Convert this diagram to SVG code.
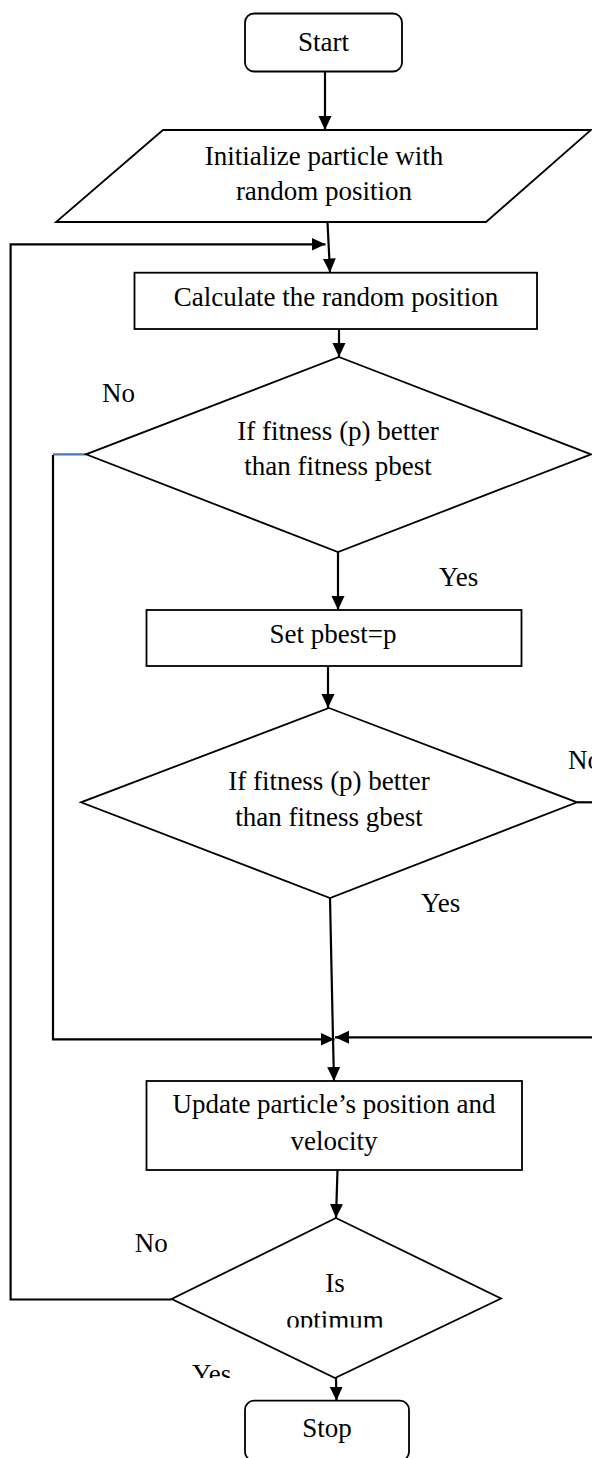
<svg xmlns="http://www.w3.org/2000/svg" width="592" height="1458" viewBox="0 0 592 1458">
<style>
.shape{fill:#fff;stroke:#000;stroke-width:1.8}
.txt{font-family:"Liberation Serif","Times New Roman",serif;font-size:27px;fill:#000;text-anchor:middle}
.lbl{font-family:"Liberation Serif","Times New Roman",serif;font-size:27px;fill:#000}
.conn{fill:none;stroke:#000;stroke-width:2.2}
.arr{marker-end:url(#ah)}
</style>
<defs>
<marker id="ah" markerUnits="userSpaceOnUse" markerWidth="14" markerHeight="14" refX="14" refY="6.5" orient="auto">
<path d="M0,0 L14,6.5 L0,13 z" fill="#000"/>
</marker>
<clipPath id="clipOpt"><rect x="0" y="1290" width="592" height="37.5"/></clipPath>
<clipPath id="clipYes"><rect x="0" y="1340" width="592" height="38"/></clipPath>
</defs>
<rect width="592" height="1458" fill="#fff"/>
<g id="connectors">
<line class="conn arr" x1="325" y1="72" x2="325" y2="130"/>
<line class="conn arr" x1="327.5" y1="222" x2="330" y2="272.5"/>
<polyline class="conn arr" points="171.7,1299.5 10.6,1299.5 10.6,244.3 325.5,244.3"/>
<line class="conn arr" x1="339" y1="329" x2="339" y2="357"/>
<line x1="86" y1="454.3" x2="53" y2="454.3" stroke="#4a78b8" stroke-width="2.2"/>
<polyline class="conn arr" points="53,455 53,1039.3 334.5,1039.3"/>
<line class="conn arr" x1="338" y1="552" x2="338" y2="610"/>
<line class="conn arr" x1="328" y1="666" x2="328" y2="708"/>
<line class="conn" x1="577" y1="802.3" x2="600" y2="802.3"/>
<line class="conn arr" x1="600" y1="1037.3" x2="335" y2="1037.3"/>
<polyline class="conn arr" points="330,898 333,1039 334,1081"/>
<line class="conn arr" x1="337.5" y1="1170" x2="336" y2="1218"/>
<line class="conn arr" x1="336" y1="1378" x2="336.5" y2="1400.7"/>
</g>
<g id="start">
<rect class="shape" x="245" y="13.5" width="157" height="58" rx="9"/>
<text class="txt" x="323.5" y="51">Start</text>
</g>
<g id="init">
<polygon class="shape" points="163,130 591,130 486,222 56,222"/>
<text class="txt" x="324" y="165">Initialize particle with</text>
<text class="txt" x="324" y="200">random position</text>
</g>
<g id="calc">
<rect class="shape" x="134.5" y="272.7" width="402.5" height="56.3"/>
<text class="txt" x="336" y="306">Calculate the random position</text>
</g>
<g id="d1">
<polygon class="shape" points="339,357 591,454.3 338,552 86,454.3"/>
<text class="txt" x="338" y="440">If fitness (p) better</text>
<text class="txt" x="338" y="475">than fitness pbest</text>
</g>
<g id="pbest">
<rect class="shape" x="146.5" y="610" width="375" height="56"/>
<text class="txt" x="333" y="643">Set pbest=p</text>
</g>
<g id="d2">
<polygon class="shape" points="329,708 577,802.3 330,898 81,802.3"/>
<text class="txt" x="329" y="790">If fitness (p) better</text>
<text class="txt" x="329" y="826">than fitness gbest</text>
</g>
<g id="update">
<rect class="shape" x="146.5" y="1081" width="375.5" height="89"/>
<text class="txt" x="334" y="1113">Update particle’s position and</text>
<text class="txt" x="334" y="1150">velocity</text>
</g>
<g id="d3">
<polygon class="shape" points="336,1218 501,1298.5 335,1378 171.7,1299"/>
<text class="txt" x="335" y="1292">Is</text>
<text class="txt" x="335" y="1329" clip-path="url(#clipOpt)">optimum</text>
</g>
<g id="stop">
<rect class="shape" x="245" y="1400.7" width="164" height="60" rx="9"/>
<text class="txt" x="327" y="1437">Stop</text>
</g>
<g id="labels">
<text class="lbl" x="102" y="402">No</text>
<text class="lbl" x="439" y="586">Yes</text>
<text class="lbl" x="568" y="769">No</text>
<text class="lbl" x="421" y="912">Yes</text>
<text class="lbl" x="134.7" y="1252">No</text>
<text class="lbl" x="192" y="1383" clip-path="url(#clipYes)">Yes</text>
</g>
</svg>
